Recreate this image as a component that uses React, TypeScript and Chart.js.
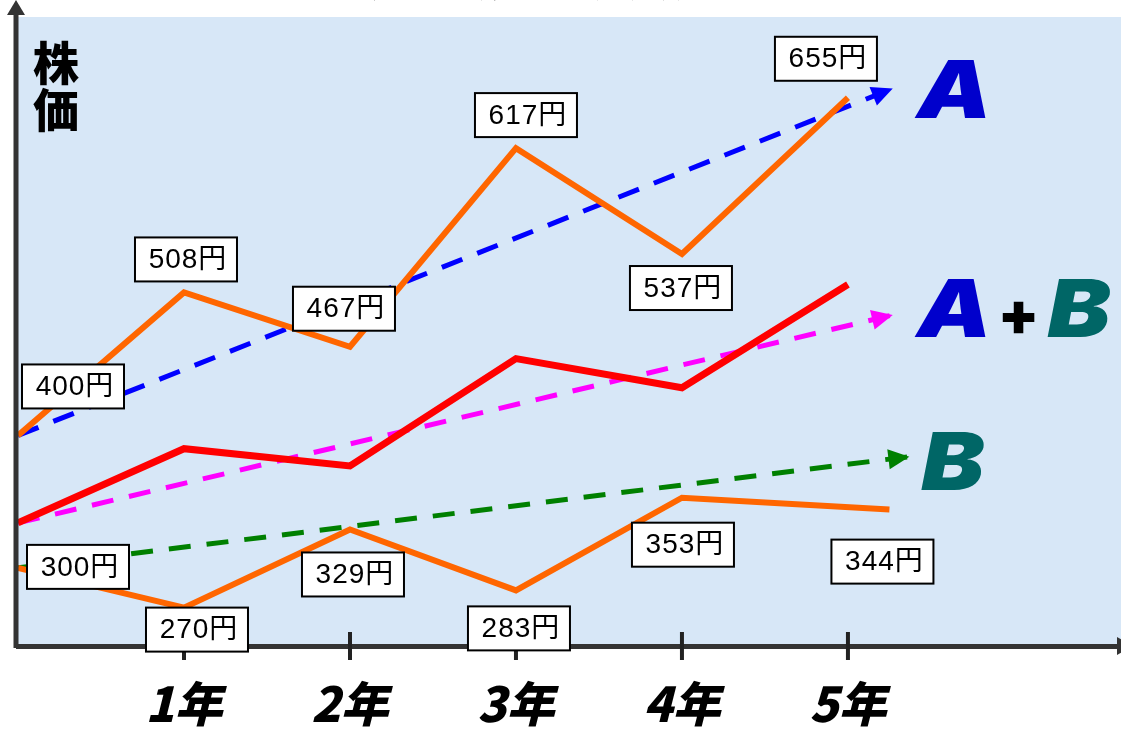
import { useEffect, useRef } from 'react';
import { Chart, registerables } from 'chart.js';

Chart.register(...registerables);

// ---- data ----
const yearTicks = [1, 2, 3, 4, 5];
const yearLabels = ['1年', '2年', '3年', '4年', '5年'];

const yearsA = [0, 1, 2, 3, 4, 5];
const priceA = [400, 508, 467, 617, 537, 655];

const yearsB = [0, 1, 2, 3, 4, 5.25];
const priceB = [300, 270, 329, 283, 353, 344];

const yearsAB = [0, 1, 2, 3, 4, 5];
const priceAB = [334, 390, 377, 458, 436, 514];

const trendYearsA = [0, 5.27];
const trendA = [400, 662];
const trendYearsAB = [0, 5.27];
const trendAB = [334, 491];
const trendYearsB = [0, 5.37];
const trendB = [300, 384];

const titleText = 'ポートフォリオ効果（分散投資）';
const yTitle = ['株', '価'];

// ---- placement of the price boxes (centre offset from the point, px) ----
const boxOffsetsA = [[55, -49], [2, -33], [-6, -38], [10, -33], [-1, 34], [-22, -39]];
const boxOffsetsB = [[60, -1], [13, 22], [3, 45], [3, 38], [1, 47], [-7, 52]];

const CJK = '"Noto Sans CJK JP"';

const pts = (xs: number[], ys: number[]) => xs.map((x, i) => ({ x, y: ys[i] }));

function drawArrowHead(ctx: CanvasRenderingContext2D, fromX: number, fromY: number, tipX: number, tipY: number, color: string, len: number, half: number) {
  const ang = Math.atan2(tipY - fromY, tipX - fromX);
  const bx = tipX - Math.cos(ang) * len;
  const by = tipY - Math.sin(ang) * len;
  ctx.beginPath();
  ctx.moveTo(tipX, tipY);
  ctx.lineTo(bx + Math.sin(ang) * half, by - Math.cos(ang) * half);
  ctx.lineTo(bx - Math.sin(ang) * half, by + Math.cos(ang) * half);
  ctx.closePath();
  ctx.fillStyle = color;
  ctx.fill();
}

// wide, heavy letter drawn with a horizontal stretch
function bigLetter(ctx: CanvasRenderingContext2D, text: string, x: number, y: number, color: string, size: number, stretch: number) {
  ctx.save();
  ctx.translate(x, y);
  ctx.scale(stretch, 1);
  ctx.font = `italic 900 ${size}px Inter`;
  ctx.fillStyle = color;
  ctx.textAlign = 'left';
  ctx.textBaseline = 'alphabetic';
  ctx.fillText(text, 0, 0);
  const w = ctx.measureText(text).width * stretch;
  ctx.restore();
  return w;
}

const decor = {
  id: 'decor',
  beforeDraw(chart: any) {
    const { ctx, chartArea } = chart;
    ctx.save();
    ctx.fillStyle = '#ffffff';
    ctx.fillRect(0, 0, chart.width, chart.height);
    ctx.fillStyle = '#d7e7f7';
    ctx.fillRect(chartArea.left, chartArea.top, chart.width - chartArea.left, chartArea.bottom - chartArea.top);
    // title line (sits mostly above the visible area)
    ctx.fillStyle = '#000';
    ctx.font = `bold 46px ${CJK}`;
    ctx.textBaseline = 'alphabetic';
    ctx.textAlign = 'left';
    ctx.fillText(titleText, 28, -5);
    ctx.restore();
  },
  afterDatasetsDraw(chart: any) {
    const { ctx } = chart;
    ctx.save();
    chart.data.datasets.forEach((ds: any, i: number) => {
      if (!ds.arrow) return;
      const els = chart.getDatasetMeta(i).data;
      const a = els[0];
      const b = els[els.length - 1];
      drawArrowHead(ctx, a.x, a.y, b.x, b.y, ds.borderColor, 21, 10);
    });
    ctx.restore();
  },
  afterDraw(chart: any) {
    const { ctx, chartArea, scales } = chart;
    const xs = scales.x;
    ctx.save();

    // vertical axis with arrow
    ctx.strokeStyle = '#333333';
    ctx.lineWidth = 5;
    ctx.beginPath();
    ctx.moveTo(chartArea.left - 2, chartArea.bottom + 2);
    ctx.lineTo(chartArea.left - 2, 12);
    ctx.stroke();
    ctx.fillStyle = '#333333';
    ctx.beginPath();
    ctx.moveTo(chartArea.left - 2, 0);
    ctx.lineTo(chartArea.left - 11, 15);
    ctx.lineTo(chartArea.left + 7, 15);
    ctx.closePath();
    ctx.fill();

    // horizontal axis arrow head
    ctx.beginPath();
    ctx.moveTo(chartArea.right - 1, chartArea.bottom - 9);
    ctx.lineTo(chartArea.right + 15, chartArea.bottom);
    ctx.lineTo(chartArea.right - 1, chartArea.bottom + 9);
    ctx.closePath();
    ctx.fill();

    // tick marks crossing the axis
    ctx.strokeStyle = '#222222';
    ctx.lineWidth = 4;
    yearTicks.forEach((t) => {
      const px = xs.getPixelForValue(t);
      ctx.beginPath();
      ctx.moveTo(px, chartArea.bottom - 14);
      ctx.lineTo(px, chartArea.bottom + 14);
      ctx.stroke();
    });

    // y title, stacked
    ctx.fillStyle = '#000';
    ctx.font = `900 46px ${CJK}`;
    ctx.textAlign = 'center';
    ctx.textBaseline = 'middle';
    yTitle.forEach((ch, i) => ctx.fillText(ch, chartArea.left + 38, 63 + i * 47));

    // names at the tips of the trend arrows
    const tip = (idx: number) => {
      const els = chart.getDatasetMeta(idx).data;
      return els[els.length - 1];
    };
    const tA = tip(3);
    const tAB = tip(4);
    const tB = tip(5);
    bigLetter(ctx, 'A', tA.x + 24, tA.y + 29, '#0000cc', 80, 1.18);
    let x = tAB.x + 24;
    x += bigLetter(ctx, 'A', x, tAB.y + 22, '#0000cc', 80, 1.18) + 6;
    ctx.font = `900 60px Inter`;
    ctx.fillStyle = '#000';
    ctx.textAlign = 'left';
    ctx.textBaseline = 'alphabetic';
    ctx.fillText('+', x, tAB.y + 20);
    x += ctx.measureText('+').width + 8;
    bigLetter(ctx, 'B', x, tAB.y + 22, '#006666', 80, 1.18);
    bigLetter(ctx, 'B', tB.x + 12, tB.y + 33, '#006666', 80, 1.18);

    // price boxes
    ctx.font = `28px "Liberation Sans", ${CJK}`;
    (ctx as any).letterSpacing = '1px';
    ctx.textAlign = 'center';
    ctx.textBaseline = 'middle';
    chart.data.datasets.forEach((ds: any, i: number) => {
      if (!ds.boxOffsets) return;
      const els = chart.getDatasetMeta(i).data;
      ds.data.forEach((p: any, j: number) => {
        const [dx, dy] = ds.boxOffsets[j];
        const cx = els[j].x + dx;
        const cy = els[j].y + dy;
        const w = 102;
        const h = 44;
        ctx.fillStyle = '#ffffff';
        ctx.fillRect(cx - w / 2, cy - h / 2, w, h);
        ctx.strokeStyle = '#000';
        ctx.lineWidth = 2;
        ctx.strokeRect(cx - w / 2, cy - h / 2, w, h);
        ctx.fillStyle = '#000';
        ctx.fillText(`${p.y}円`, cx + 2, cy + 1);
      });
    });
    ctx.restore();
  },
};

export default function App() {
  const canvasRef = useRef<HTMLCanvasElement>(null);

  useEffect(() => {
    if (!canvasRef.current) return;
    const dashed = { borderWidth: 5, borderDash: [22, 16], pointRadius: 0, arrow: true, order: 2 };
    const solid = { pointRadius: 0, order: 1 };
    const chart = new Chart(canvasRef.current, {
      type: 'line',
      data: {
        datasets: [
          { label: 'A', data: pts(yearsA, priceA), borderColor: '#ff6600', borderWidth: 6, boxOffsets: boxOffsetsA, ...solid },
          { label: 'B', data: pts(yearsB, priceB), borderColor: '#ff6600', borderWidth: 6, boxOffsets: boxOffsetsB, ...solid },
          { label: 'A+B', data: pts(yearsAB, priceAB), borderColor: '#ff0000', borderWidth: 7, ...solid },
          { label: 'A trend', data: pts(trendYearsA, trendA), borderColor: '#0000ff', ...dashed },
          { label: 'A+B trend', data: pts(trendYearsAB, trendAB), borderColor: '#ff00ff', ...dashed },
          { label: 'B trend', data: pts(trendYearsB, trendB), borderColor: '#008000', ...dashed },
        ] as any,
      },
      options: {
        animation: false,
        responsive: false,
        devicePixelRatio: 1,
        layout: { padding: { left: 18, top: 17, right: 3, bottom: 0 } },
        plugins: { legend: { display: false }, tooltip: { enabled: false } },
        elements: { line: { tension: 0, borderCapStyle: 'butt', borderJoinStyle: 'miter' } },
        scales: {
          x: {
            type: 'linear',
            min: 0,
            max: 6.627,
            border: { display: true, color: '#333333', width: 5 },
            grid: { display: false, drawTicks: false },
            afterBuildTicks: (scale: any) => {
              scale.ticks = yearTicks.map((v) => ({ value: v }));
            },
            afterFit: (scale: any) => {
              scale.height = 84;
            },
            ticks: {
              autoSkip: false,
              maxRotation: 0,
              padding: 29,
              color: '#000',
              font: { family: 'Noto Sans CJK JP', size: 48, weight: '900', style: 'italic' },
              callback: (v: any) => yearLabels[yearTicks.indexOf(Number(v))] ?? '',
            },
          },
          y: {
            type: 'linear',
            display: false,
            min: 241,
            max: 716,
          },
        },
      },
      plugins: [decor],
    });
    return () => chart.destroy();
  }, []);

  return (
    <div style={{ position: 'absolute', left: 0, top: 0, width: 1121, height: 730 }}>
      <canvas ref={canvasRef} width={1121} height={730} />
    </div>
  );
}
